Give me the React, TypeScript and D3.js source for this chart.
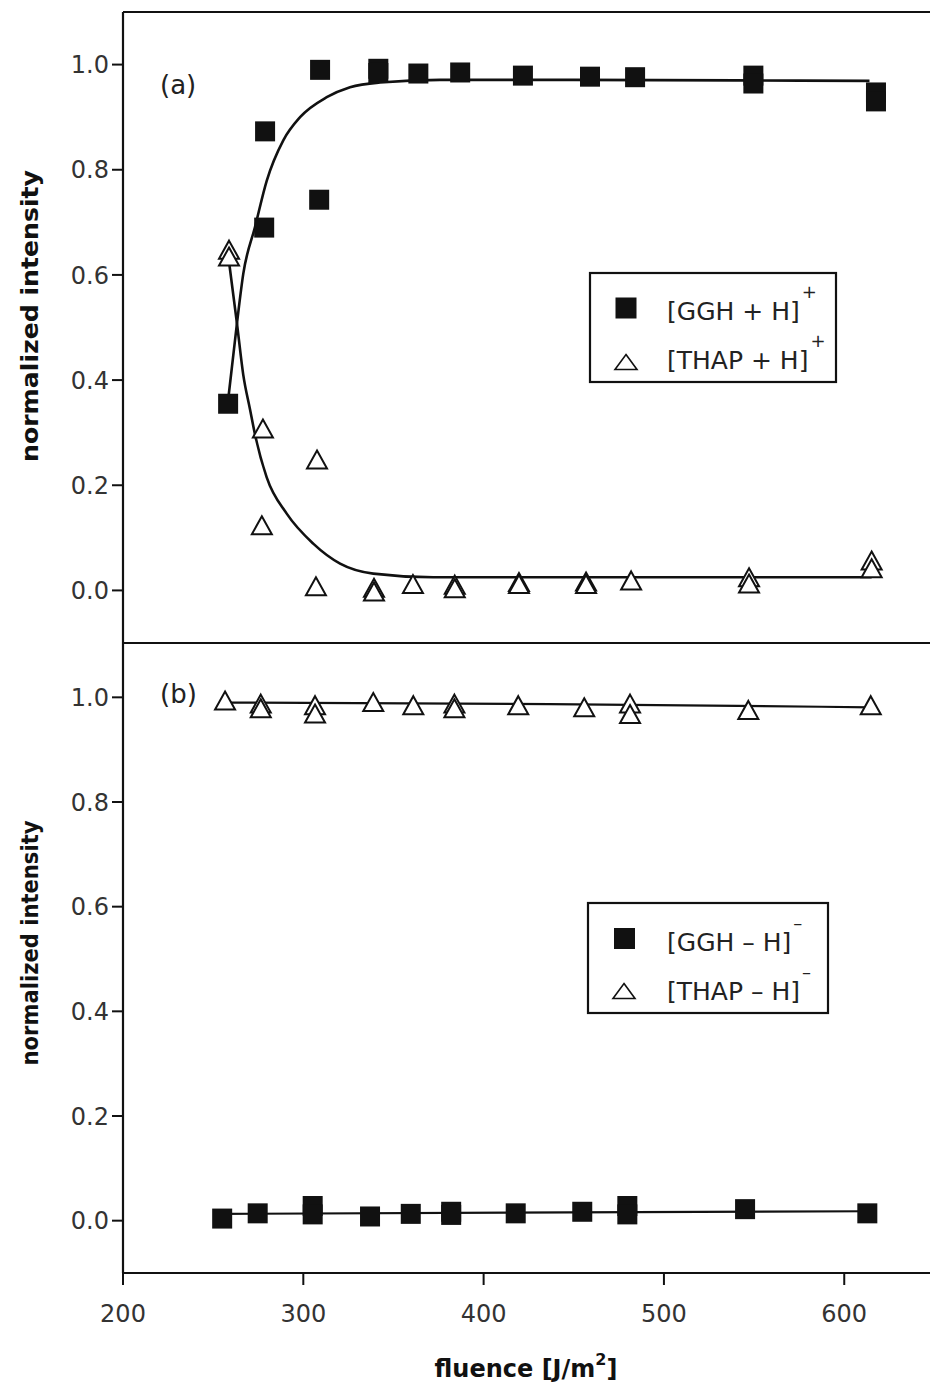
import React from "react";
import * as d3 from "d3";

// ---------- data ----------
const xTicks = [200, 300, 400, 500, 600];
const yTicks = [0.0, 0.2, 0.4, 0.6, 0.8, 1.0];

// Panel (a): positive ions
const gghPosX = [258.3, 278.8, 278.3, 309.3, 308.8, 341.6, 341.6, 363.8, 387.0, 421.8, 459.0, 484.0, 549.6, 549.6, 617.6, 617.6];
const gghPosY = [0.355, 0.873, 0.690, 0.990, 0.743, 0.992, 0.984, 0.983, 0.985, 0.979, 0.977, 0.976, 0.979, 0.964, 0.947, 0.930];

const thapPosX = [258.8, 258.8, 277.6, 277.0, 307.6, 307.0, 339.2, 339.2, 360.8, 384.0, 384.0, 419.6, 419.6, 456.8, 456.8, 481.8, 547.2, 547.2, 615.2, 615.2];
const thapPosY = [0.648, 0.635, 0.308, 0.124, 0.249, 0.008, 0.005, -0.002, 0.012, 0.011, 0.004, 0.016, 0.012, 0.017, 0.012, 0.019, 0.025, 0.013, 0.057, 0.042];

// fitted curves, panel (a)
const gghPosFitX = [258.4, 263.2, 266.7, 273.2, 279.7, 288.9, 298.2, 313.0, 325.9, 342.5, 375.8, 450.0, 540.0, 614.0];
const gghPosFitY = [0.365, 0.508, 0.602, 0.691, 0.779, 0.856, 0.900, 0.938, 0.957, 0.966, 0.971, 0.971, 0.970, 0.969];

const thapPosFitX = [258.8, 263.2, 266.7, 270.4, 273.0, 279.7, 290.8, 305.5, 320.4, 338.8, 372.1, 450.0, 540.0, 615.2];
const thapPosFitY = [0.625, 0.508, 0.410, 0.345, 0.300, 0.215, 0.146, 0.089, 0.051, 0.032, 0.025, 0.025, 0.025, 0.025];

// Panel (b): negative ions
const thapNegX = [256.6, 276.4, 276.4, 306.5, 306.5, 338.8, 361.0, 383.8, 383.8, 419.2, 455.8, 481.2, 481.2, 546.8, 614.7];
const thapNegY = [0.994, 0.988, 0.979, 0.985, 0.969, 0.991, 0.985, 0.988, 0.979, 0.985, 0.981, 0.988, 0.968, 0.976, 0.985];

const gghNegX = [255.0, 274.7, 305.2, 305.2, 337.0, 359.6, 382.0, 382.0, 417.8, 454.7, 479.7, 479.7, 545.0, 612.8];
const gghNegY = [0.004, 0.014, 0.028, 0.012, 0.008, 0.013, 0.017, 0.011, 0.014, 0.017, 0.028, 0.012, 0.022, 0.014];

const thapNegFitX = [256.6, 436.8, 614.7];
const thapNegFitY = [0.990, 0.987, 0.981];
const gghNegFitX = [255.0, 612.8];
const gghNegFitY = [0.013, 0.018];

// ---------- layout ----------
const W = 930;
const H = 1387;
const x = d3.scaleLinear().domain([200, 650]).range([123, 934.4]);
const yTop = d3.scaleLinear().domain([-0.1, 1.1]).range([643, 12]);
const yBot = d3.scaleLinear().domain([-0.1, 1.1]).range([1273, 645]);

const tickFont = "'DejaVu Sans', Verdana, sans-serif";
const ink = "#111";

const zip = (xs: number[], ys: number[]) => xs.map((v, i) => [v, ys[i]] as [number, number]);

function Square({ cx, cy, s = 20 }: { cx: number; cy: number; s?: number }) {
  return <rect x={cx - s / 2} y={cy - s / 2} width={s} height={s} fill={ink} />;
}

function Tri({ cx, cy, w = 20, h = 18, sw = 2 }: { cx: number; cy: number; w?: number; h?: number; sw?: number }) {
  const p = `${cx},${cy - h / 2} ${cx + w / 2},${cy + h / 2} ${cx - w / 2},${cy + h / 2}`;
  return <polygon points={p} fill="white" stroke={ink} strokeWidth={sw} strokeLinejoin="miter" />;
}

function YAxis({ y }: { y: d3.ScaleLinear<number, number> }) {
  const x0 = x(200);
  return (
    <g>
      {yTicks.map((t) => (
        <g key={t}>
          <line x1={x0 - 11} x2={x0} y1={y(t)} y2={y(t)} stroke={ink} strokeWidth={2} />
          <text x={x0 - 14} y={y(t)} dy="0.36em" textAnchor="end" fontFamily={tickFont} fontSize={24} fill="#333">
            {t.toFixed(1)}
          </text>
        </g>
      ))}
    </g>
  );
}

export default function App() {
  const fitLine = (yScale: d3.ScaleLinear<number, number>) =>
    d3
      .line<[number, number]>()
      .x((d) => x(d[0]))
      .y((d) => yScale(d[1]))
      .curve(d3.curveMonotoneX);

  const x0 = x(200);
  const xEnd = W + 5;

  return (
    <svg width={W} height={H} style={{ position: "absolute", left: 0, top: 0, background: "white" }}>
      <rect x={0} y={0} width={W} height={H} fill="white" />

      {/* frame */}
      <line x1={x0} x2={x0} y1={yTop(1.1)} y2={yBot(-0.1)} stroke={ink} strokeWidth={2.2} />
      <line x1={x0} x2={xEnd} y1={yTop(1.1)} y2={yTop(1.1)} stroke={ink} strokeWidth={2.2} />
      <line x1={x0} x2={xEnd} y1={yTop(-0.1)} y2={yTop(-0.1)} stroke={ink} strokeWidth={2.2} />
      <line x1={x0} x2={xEnd} y1={yBot(-0.1)} y2={yBot(-0.1)} stroke={ink} strokeWidth={2.2} />

      <YAxis y={yTop} />
      <YAxis y={yBot} />

      {/* x axis */}
      {xTicks.map((t) => (
        <g key={t}>
          <line x1={x(t)} x2={x(t)} y1={yBot(-0.1)} y2={yBot(-0.1) + 12} stroke={ink} strokeWidth={2} />
          <text x={x(t)} y={1322} textAnchor="middle" fontFamily={tickFont} fontSize={24} fill="#333">
            {t}
          </text>
        </g>
      ))}
      <text x={526} y={1377} textAnchor="middle" fontFamily={tickFont} fontWeight="bold" fontSize={24} fill={ink}>
        fluence [J/m<tspan dy={-12} fontSize={16}>2</tspan>
        <tspan dy={12}>]</tspan>
      </text>

      {/* y titles */}
      <text
        transform={`translate(38,${316}) rotate(-90)`}
        textAnchor="middle"
        fontFamily={tickFont}
        fontWeight="bold"
        fontSize={23}
        textLength={292}
        lengthAdjust="spacingAndGlyphs"
        fill={ink}
      >
        normalized intensity
      </text>
      <text
        transform={`translate(38,${943}) rotate(-90)`}
        textAnchor="middle"
        fontFamily={tickFont}
        fontWeight="bold"
        fontSize={23}
        textLength={245}
        lengthAdjust="spacingAndGlyphs"
        fill={ink}
      >
        normalized intensity
      </text>

      {/* panel labels */}
      <text x={160} y={94} fontFamily={tickFont} fontSize={26} fill="#222">(a)</text>
      <text x={160} y={703} fontFamily={tickFont} fontSize={26} fill="#222">(b)</text>

      {/* panel (a) fits */}
      <path d={fitLine(yTop)(zip(gghPosFitX, gghPosFitY)) || ""} fill="none" stroke={ink} strokeWidth={2.6} />
      <path d={fitLine(yTop)(zip(thapPosFitX, thapPosFitY)) || ""} fill="none" stroke={ink} strokeWidth={2.6} />
      {/* panel (a) points */}
      {zip(thapPosX, thapPosY).map((d, i) => (
        <Tri key={"tp" + i} cx={x(d[0])} cy={yTop(d[1])} />
      ))}
      {zip(gghPosX, gghPosY).map((d, i) => (
        <Square key={"gp" + i} cx={x(d[0])} cy={yTop(d[1])} />
      ))}

      {/* panel (b) fits */}
      <path d={fitLine(yBot)(zip(thapNegFitX, thapNegFitY)) || ""} fill="none" stroke={ink} strokeWidth={2.2} />
      <path d={fitLine(yBot)(zip(gghNegFitX, gghNegFitY)) || ""} fill="none" stroke={ink} strokeWidth={2.2} />
      {zip(thapNegX, thapNegY).map((d, i) => (
        <Tri key={"tn" + i} cx={x(d[0])} cy={yBot(d[1])} />
      ))}
      {zip(gghNegX, gghNegY).map((d, i) => (
        <Square key={"gn" + i} cx={x(d[0])} cy={yBot(d[1])} />
      ))}

      {/* legend (a) */}
      <rect x={590} y={273} width={246} height={109} fill="white" stroke={ink} strokeWidth={2.2} />
      <Square cx={626} cy={308} s={21} />
      <text x={667} y={320} fontFamily={tickFont} fontSize={25} fill="#222">
        [GGH + H]<tspan dy={-22} dx={2} fontSize={18}>+</tspan>
      </text>
      <Tri cx={626} cy={362} w={22} h={15} sw={1.6} />
      <text x={667} y={369} fontFamily={tickFont} fontSize={25} fill="#222">
        [THAP + H]<tspan dy={-22} dx={2} fontSize={18}>+</tspan>
      </text>

      {/* legend (b) */}
      <rect x={588} y={903} width={240} height={110} fill="white" stroke={ink} strokeWidth={2.2} />
      <Square cx={624.5} cy={938.5} s={21} />
      <text x={667} y={951} fontFamily={tickFont} fontSize={25} fill="#222">
        [GGH – H]<tspan dy={-22} dx={2} fontSize={18}>–</tspan>
      </text>
      <Tri cx={624} cy={991} w={22} h={15} sw={1.6} />
      <text x={667} y={1000} fontFamily={tickFont} fontSize={25} fill="#222">
        [THAP – H]<tspan dy={-22} dx={2} fontSize={18}>–</tspan>
      </text>
    </svg>
  );
}
